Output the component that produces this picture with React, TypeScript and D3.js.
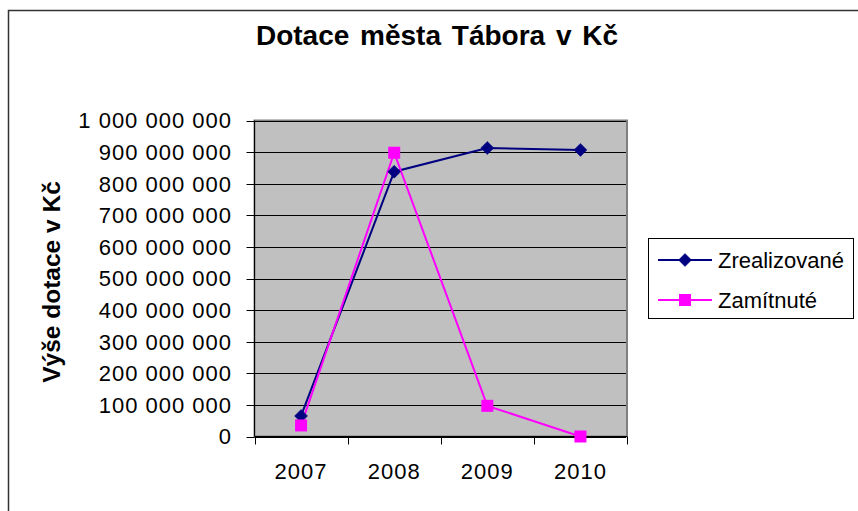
import React from "react";
import * as d3 from "d3";

const categories = ["2007", "2008", "2009", "2010"];
const zrealizovane = [65e6, 838e6, 913e6, 907e6];
const zamitnute = [35e6, 898e6, 97e6, 0];
const yTicks = [0, 1e8, 2e8, 3e8, 4e8, 5e8, 6e8, 7e8, 8e8, 9e8, 1e9];
const seriesNames = ["Zrealizované", "Zamítnuté"];
const seriesColors = ["#000080", "#FF00FF"];
const title = "Dotace města Tábora v Kč";
const yTitle = "Výše dotace v Kč";

const W = 858;
const H = 511;
const plot = { left: 254.5, right: 627, top: 120.5, bottom: 436.5 };
const FONT = "'Liberation Sans', Arial, Helvetica, sans-serif";

const locale = d3.formatLocale({ thousands: " ", grouping: [3], decimal: ",", currency: ["", ""] });
const fmt = locale.format(",");

export default function App() {
  const x = d3.scaleBand<string>().domain(categories).range([plot.left, plot.right]).padding(0);
  const y = d3.scaleLinear().domain([0, 1e9]).range([plot.bottom, plot.top]);
  const cx = (c: string) => (x(c) as number) + x.bandwidth() / 2;
  const line = d3
    .line<number>()
    .x((_, i) => cx(categories[i]))
    .y((v) => y(v));
  const series = [zrealizovane, zamitnute];
  const boundaries = [...categories.map((c) => x(c) as number), plot.right];

  const diamond = (px: number, py: number, r: number) =>
    `M${px},${py - r}L${px + r},${py}L${px},${py + r}L${px - r},${py}Z`;

  const marker = (si: number, px: number, py: number, key: string) =>
    si === 0 ? (
      <path key={key} d={diamond(px, py, 6.5)} fill={seriesColors[0]} stroke={seriesColors[0]} strokeWidth={0.5} />
    ) : (
      <rect key={key} x={px - 6} y={py - 6} width={12} height={12} fill={seriesColors[1]} />
    );

  return (
    <svg
      width={W}
      height={H}
      style={{ position: "absolute", left: 0, top: 0, background: "#fff" }}
      fontFamily={FONT}
    >
      <rect x={8.5} y={10.5} width={900} height={600} fill="#fff" stroke="#333" strokeWidth={1.5} />
      <text x={437} y={45} textAnchor="middle" fontSize={28} fontWeight="bold" fill="#000" wordSpacing={3}>
        {title}
      </text>
      <text
        transform={`translate(${60},${282}) rotate(-90)`}
        textAnchor="middle"
        fontSize={24.5}
        fontWeight="bold"
        fill="#000"
      >
        {yTitle}
      </text>

      {/* plot area */}
      <rect
        x={plot.left}
        y={plot.top}
        width={plot.right - plot.left}
        height={plot.bottom - plot.top}
        fill="#C0C0C0"
        stroke="#808080"
        strokeWidth={2}
      />
      {yTicks.map((t) => (
        <line key={"g" + t} x1={plot.left} x2={plot.right - 1} y1={Math.round(y(t)) + 0.5} y2={Math.round(y(t)) + 0.5} stroke="#000" strokeWidth={1} />
      ))}
      {/* y axis */}
      <line x1={plot.left} x2={plot.left} y1={plot.top} y2={plot.bottom} stroke="#000" />
      {yTicks.map((t) => (
        <g key={"yt" + t}>
          <line x1={plot.left - 8} x2={plot.left} y1={Math.round(y(t)) + 0.5} y2={Math.round(y(t)) + 0.5} stroke="#000" />
          <text x={232} y={y(t)} dy="0.36em" textAnchor="end" fontSize={22} letterSpacing={1} fill="#000">
            {fmt(t)}
          </text>
        </g>
      ))}
      {/* x axis */}
      <line x1={plot.left} x2={plot.right} y1={plot.bottom} y2={plot.bottom} stroke="#000" />
      {boundaries.map((b, i) => (
        <line key={"xt" + i} x1={Math.round(b) + 0.5} x2={Math.round(b) + 0.5} y1={plot.bottom} y2={plot.bottom + 8} stroke="#000" />
      ))}
      {categories.map((c) => (
        <text key={"xl" + c} x={cx(c)} y={479} textAnchor="middle" fontSize={22} letterSpacing={1} fill="#000">
          {c}
        </text>
      ))}

      {/* lines */}
      {series.map((s, si) => (
        <path key={"l" + si} d={line(s) as string} fill="none" stroke={seriesColors[si]} strokeWidth={2} />
      ))}
      {/* markers */}
      {series.map((s, si) => s.map((v, i) => marker(si, cx(categories[i]), y(v), `m${si}-${i}`)))}

      {/* legend */}
      <rect x={648.5} y={238.5} width={205} height={80} fill="#fff" stroke="#000" strokeWidth={1} />
      {seriesNames.map((n, i) => {
        const ly = 260 + i * 40;
        return (
          <g key={"lg" + i}>
            <line x1={658} x2={712} y1={ly} y2={ly} stroke={seriesColors[i]} strokeWidth={2} />
            {marker(i, 685, ly, "lm" + i)}
            <text x={718} y={ly} dy="0.36em" fontSize={22} fill="#000">
              {n}
            </text>
          </g>
        );
      })}
    </svg>
  );
}
